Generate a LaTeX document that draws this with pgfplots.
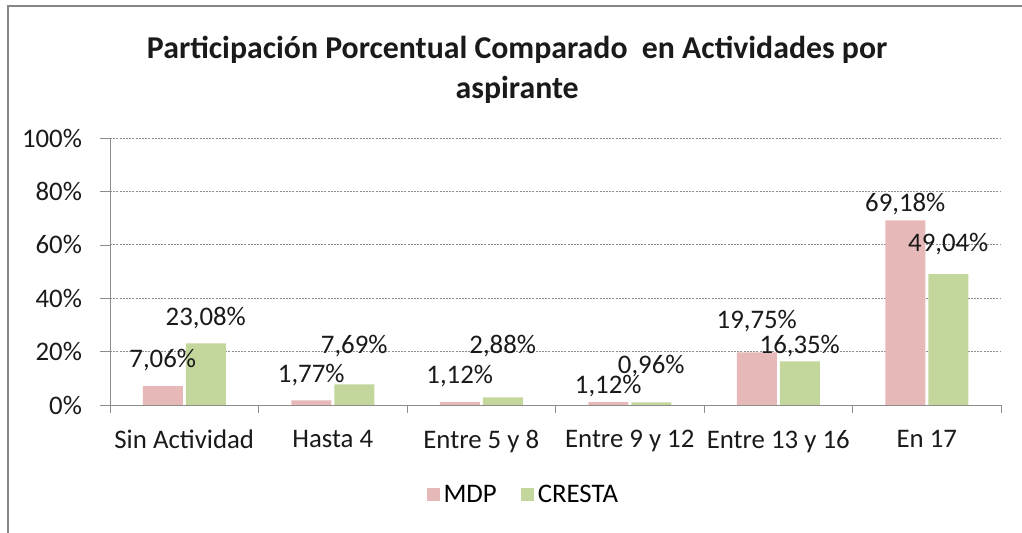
\documentclass[border=0pt]{standalone}
\usepackage{fontspec}
\setmainfont{Carlito}
\usepackage{pgfplots}
\usepackage{pgfplotstable}
\pgfplotsset{compat=1.18}
\definecolor{mdp}{HTML}{E6B9B8}
\definecolor{cresta}{HTML}{C3D69B}
\definecolor{gridc}{HTML}{8C8C8C}
\definecolor{framec}{HTML}{868686}
\definecolor{txt}{HTML}{1A1A1A}

\pgfplotstableread{
x y dy
0 7.06 13
1 1.77 12.5
2 1.12 13
3 1.12 8
4 19.75 15.5
5 69.18 8.25
}\mdpdata
\pgfplotstableread{
x y dy
0 23.08 12.5
1 7.69 19.25
2 2.88 25.5
3 0.96 18
4 16.35 7.5
5 49.04 15
}\crestadata

\newcommand{\tfont}{\fontsize{13.4}{16}\selectfont}

\begin{document}
\begin{tikzpicture}
\path[use as bounding box] (0,0) rectangle (511pt,266.5pt);
\draw[framec, line width=1.2pt] (4pt,0) -- (4pt,263.5pt) -- (511pt,263.5pt);
\begin{axis}[
  at={(55pt,64pt)}, anchor=south west,
  scale only axis,
  width=445.5pt, height=133.5pt,
  ymin=0, ymax=100,
  xmin=-0.5, xmax=5.5,
  ybar, bar width=20pt,
  axis lines=left,
  axis line style={-, gridc},
  ytick={0,20,...,100},
  yticklabel={\pgfmathprintnumber{\tick}\%},
  major tick length=5pt,
  minor tick length=4pt,
  tick align=outside,
  xtick={0,...,5},
  xticklabels={Sin Actividad, Hasta 4, Entre 5 y 8, Entre 9 y 12, Entre 13 y 16, En 17},
  minor xtick={-0.5,0.5,...,5.5},
  major x tick style={draw=none},
  minor x tick style={draw=gridc},
  major y tick style={draw=gridc},
  ymajorgrids,
  major grid style={gridc, line width=0.4pt, dash pattern=on 1pt off 0.6pt},
  /pgf/number format/assume math mode=true,
  every tick label/.append style={font=\tfont, text=txt},
  xticklabel style={yshift=-4pt},
  yticklabel style={xshift=-5.5pt},
  title={Participación Porcentual Comparado \ en Actividades por\\aspirante},
  title style={at={(0.457,1)}, anchor=center, yshift=28pt, align=center,
    font=\fontsize{15.9}{20}\selectfont\bfseries, text=txt},
  nodes near coords={\pgfmathprintnumber[fixed, fixed zerofill, precision=2, use comma]{\pgfplotspointmeta}\%},
  visualization depends on={\thisrow{dy} \as \dy},
  every node near coord/.append style={anchor=center, yshift=\dy pt, font=\tfont, text=txt},
  legend style={at={(0.465,0)}, anchor=center, yshift=-45pt, draw=none, font=\tfont,
    legend columns=2, /tikz/every even column/.append style={column sep=10pt}},
  legend image code/.code={\fill[#1] (0pt,-3.2pt) rectangle (6.5pt,3.5pt);},
]
\addplot[fill=mdp, draw=none, bar shift=-10.75pt] table[x=x, y=y] {\mdpdata};
\addlegendentry{MDP}
\addplot[fill=cresta, draw=none, bar shift=10.75pt] table[x=x, y=y] {\crestadata};
\addlegendentry{CRESTA}
\end{axis}
\end{tikzpicture}
\end{document}
